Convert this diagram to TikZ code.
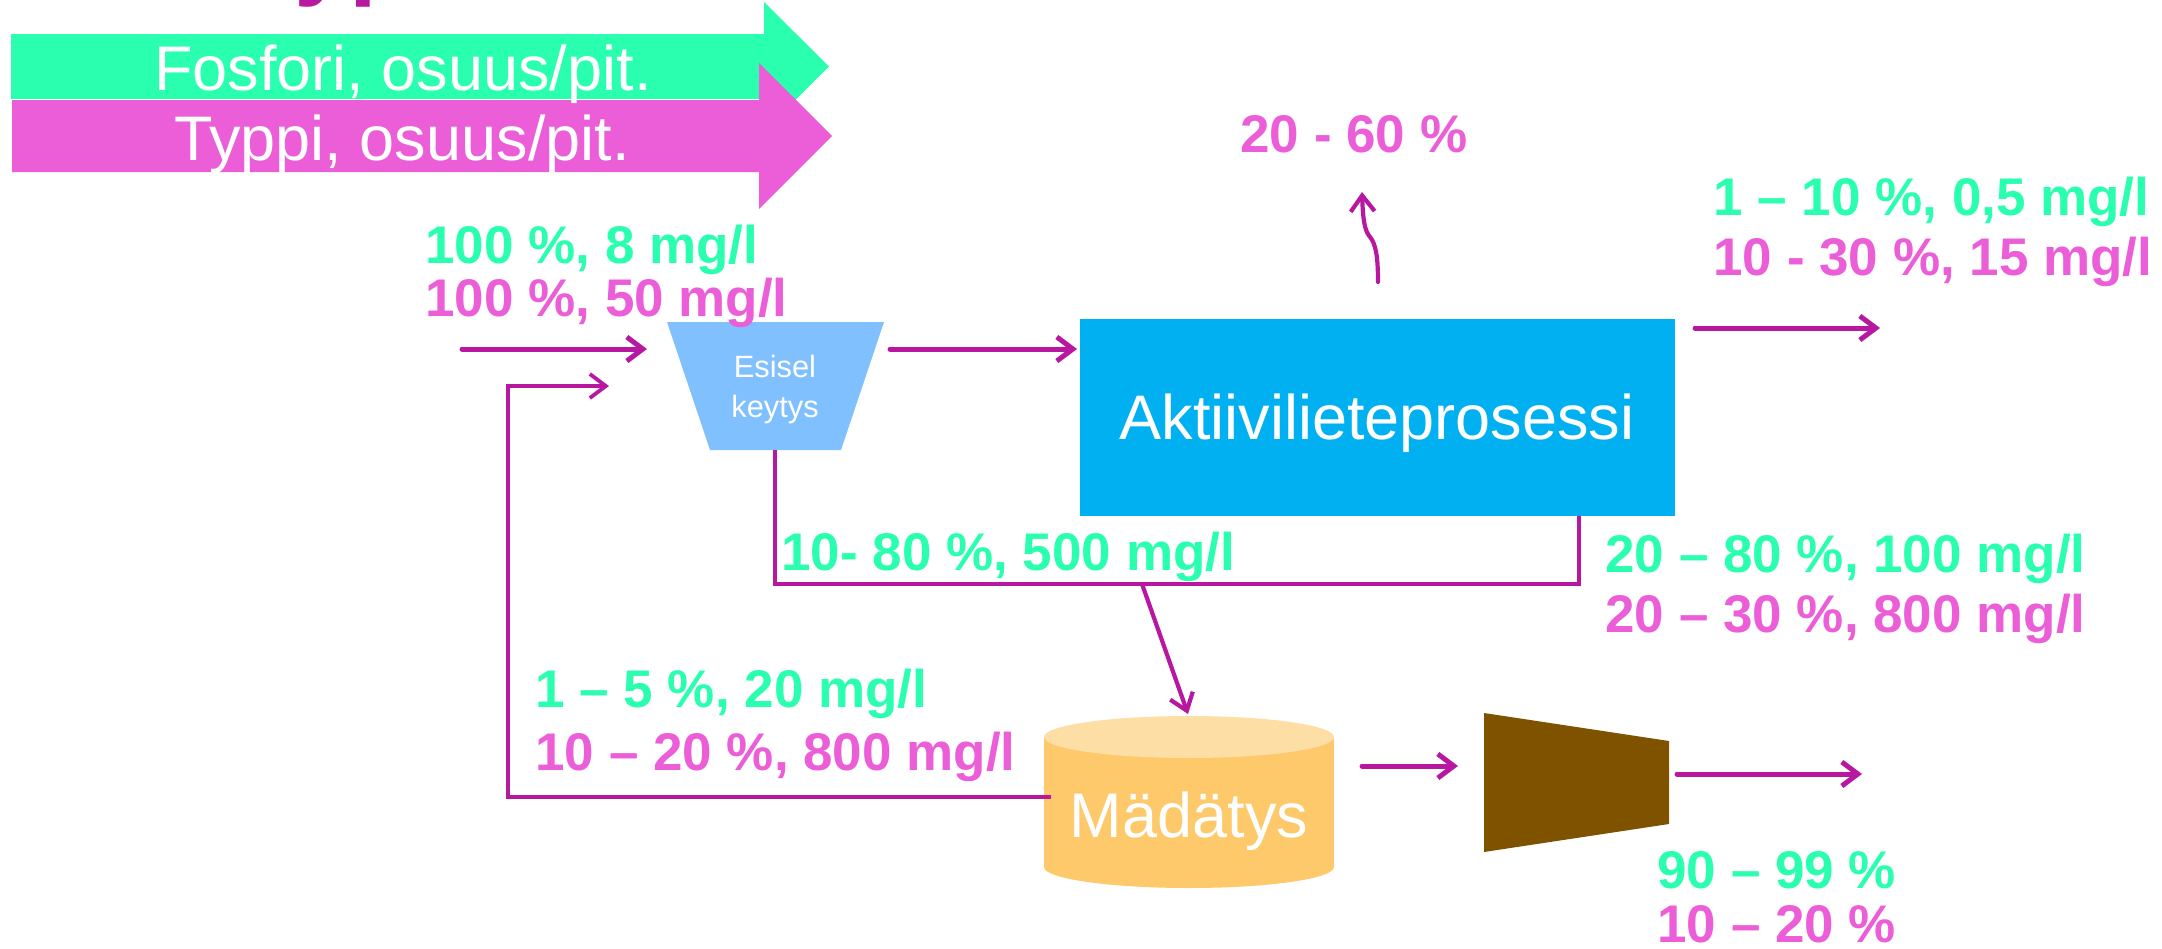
\documentclass[tikz,border=0pt]{standalone}
\usepackage{fontspec}
\setmainfont{Liberation Sans}
\usetikzlibrary{arrows.meta}
\definecolor{gr}{RGB}{42,255,175}
\definecolor{pk}{RGB}{235,94,216}
\definecolor{ln}{RGB}{184,24,160}
\definecolor{akt}{RGB}{0,176,240}
\definecolor{esi}{RGB}{128,192,255}
\definecolor{cylb}{RGB}{254,201,107}
\definecolor{cylt}{RGB}{253,222,164}
\definecolor{brn}{RGB}{127,82,0}
\begin{document}
\begin{tikzpicture}[x=0.5pt,y=-0.5pt,
  lbl/.style={inner sep=0pt, anchor=base west, font=\fontsize{26.5}{30}\selectfont\bfseries},
  flow/.style={draw=ln, line width=2.5pt, line cap=round, -{Straight Barb[length=8pt,width=12pt]}},
  pipe/.style={draw=ln, line width=1.9pt},
  bigtxt/.style={inner sep=0pt, anchor=base, text=white, font=\fontsize{31.5}{36}\selectfont}]
\useasboundingbox (0,0) rectangle (2162,948);

% cut-off title
\node[anchor=base west, inner sep=0pt, text=ln, font=\fontsize{50}{60}\selectfont\bfseries] (title) at (240,-14) {Typen};

% banner arrows
\fill[gr] (11,34) -- (764,34) -- (764,2) -- (829,66.5) -- (764,131) -- (764,99) -- (11,99) -- cycle;
\fill[pk] (12,100) -- (759,100) -- (759,63) -- (832,136) -- (759,209) -- (759,172) -- (12,172) -- cycle;
\node[bigtxt] (fos) at (403,90) {Fosfori, osuus/pit.};
\node[bigtxt] (typ) at (402,160) {Typpi, osuus/pit.};

% primary settling
\fill[esi] (667,322) -- (884,322) -- (841,450) -- (710,450) -- cycle;
\node[inner sep=0pt, anchor=base, text=white, font=\fontsize{15.4}{18}\selectfont] (es1) at (775,377) {Esisel};
\node[inner sep=0pt, anchor=base, text=white, font=\fontsize{15.4}{18}\selectfont] (es2) at (775,417) {keytys};

% activated sludge
\node[fill=akt, inner sep=0pt, minimum width=297.5pt, minimum height=98.5pt] (akt) at (1377.5,417.5) {};
\node[bigtxt] (aktt) at (1377,439) {Aktiivilieteprosessi};

% digester
\fill[cylb] (1044,737) rectangle (1334,867);
\fill[cylb] (1189,867) ellipse [x radius=145, y radius=21];
\fill[cylt] (1189,737) ellipse [x radius=145, y radius=21];
\node[bigtxt] (mad) at (1189,837) {Mädätys};

% dewatering
\fill[brn] (1484,713) -- (1669,741) -- (1669,824) -- (1484,852) -- cycle;

% connectors
\coordinate (inS) at (462,349); \coordinate (esIn) at (647,349);
\draw[flow] (inS) -- (esIn);
\coordinate (esOut) at (890,349); \coordinate (aktIn) at (1077,349);
\draw[flow] (esOut) -- (aktIn);
\coordinate (aktOut) at (1695,328); \coordinate (effl) at (1880,328);
\draw[flow] (aktOut) -- (effl);
\coordinate (gasS) at (1378,282); \coordinate (gasE) at (1362,192);
\draw[flow, line width=2.1pt] (gasS) .. controls (1378,258) and (1376,244) .. (1370,237) .. controls (1365,231) and (1363,222) .. (gasE);

\coordinate (esBot) at (775,450); \coordinate (c1) at (775,584);
\coordinate (c2) at (1579,584); \coordinate (aktBot) at (1579,516);
\draw[pipe] (esBot) -- (c1) -- (c2) -- (aktBot);
\coordinate (sl1) at (1142,584); \coordinate (digTop) at (1188,714);
\draw[flow, line width=2.1pt] (sl1) -- (digTop);

\coordinate (digL) at (1051,797); \coordinate (r1) at (508,797);
\coordinate (r2) at (508,386); \coordinate (recE) at (609,386);
\draw[flow, line width=1.9pt, line cap=butt] (digL) -- (r1) -- (r2) -- (recE);

\coordinate (digR) at (1362,766); \coordinate (brIn) at (1458,766);
\draw[flow] (digR) -- (brIn);
\coordinate (brOut) at (1677,774); \coordinate (cake) at (1862,774);
\draw[flow] (brOut) -- (cake);

% labels
\node[lbl, text=gr] (l1) at (425,263) {100 \%, 8 mg/l};
\node[lbl, text=pk] (l2) at (425,316) {100 \%, 50 mg/l};
\node[lbl, text=pk] (l3) at (1240,152) {20 - 60 \%};
\node[lbl, text=gr] (l4) at (1713,215) {1 – 10 \%, 0,5 mg/l};
\node[lbl, text=pk] (l5) at (1713,275) {10 - 30 \%, 15 mg/l};
\node[lbl, text=gr] (l6) at (781,570) {10- 80 \%, 500 mg/l};
\node[lbl, text=gr] (l7) at (1605,572) {20 – 80 \%, 100 mg/l};
\node[lbl, text=pk] (l8) at (1605,632) {20 – 30 \%, 800 mg/l};
\node[lbl, text=gr] (l9) at (535,707) {1 – 5 \%, 20 mg/l};
\node[lbl, text=pk] (l10) at (535,770) {10 – 20 \%, 800 mg/l};
\node[lbl, text=gr] (l11) at (1657,888) {90 – 99 \%};
\node[lbl, text=pk] (l12) at (1657,942) {10 – 20 \%};
\end{tikzpicture}
\end{document}
